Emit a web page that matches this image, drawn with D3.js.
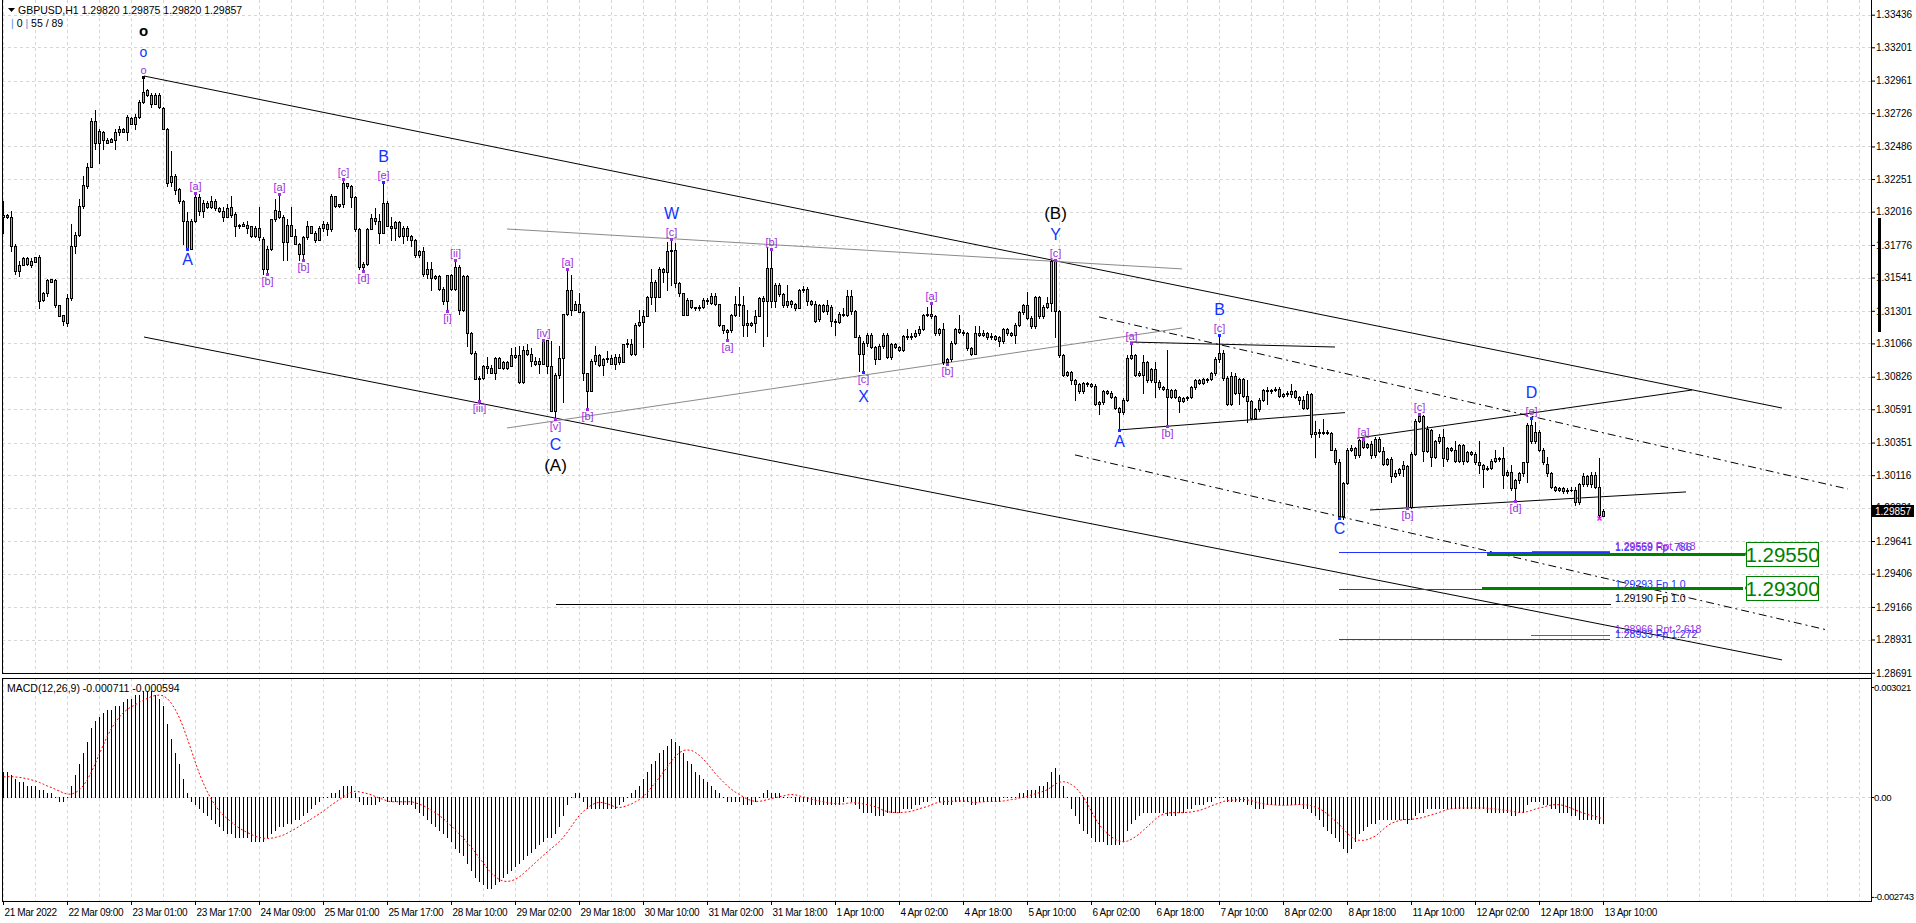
<!DOCTYPE html>
<html><head><meta charset="utf-8">
<script src="https://cdn.jsdelivr.net/npm/d3@7"></script>
<style>
html,body{margin:0;padding:0;background:#fff;overflow:hidden;}
svg{display:block;font-family:"Liberation Sans",Arial,sans-serif;}
</style></head><body>
<script>
// ---------------- DATA ----------------
const openP = [
1.3198,1.3199,1.3198,1.3177,1.3159,1.3163,1.3168,1.3163,1.3165,1.3169,
1.3138,1.3143,1.3151,1.3152,1.3134,1.3127,1.3121,1.3139,1.3177,1.3185,
1.3206,1.3220,1.3234,1.3267,1.3251,1.3259,1.3253,1.3252,1.3253,1.3259,
1.3261,1.3259,1.3269,1.3265,1.3270,1.3281,1.3286,1.3286,1.3279,1.3286,
1.3276,1.3261,1.3223,1.3227,1.3218,1.3209,1.3195,1.3175,1.3195,1.3212,
1.3202,1.3208,1.3205,1.3209,1.3204,1.3202,1.3198,1.3199,1.3200,1.3192,
1.3191,1.3192,1.3191,1.3184,1.3190,1.3182,1.3160,1.3175,1.3196,1.3202,
1.3198,1.3180,1.3192,1.3184,1.3178,1.3171,1.3183,1.3191,1.3186,1.3181,
1.3190,1.3193,1.3189,1.3213,1.3206,1.3207,1.3222,1.3220,1.3212,1.3189,
1.3162,1.3164,1.3189,1.3197,1.3195,1.3186,1.3208,1.3191,1.3190,1.3194,
1.3184,1.3190,1.3184,1.3181,1.3170,1.3173,1.3157,1.3160,1.3154,1.3155,
1.3146,1.3137,1.3156,1.3146,1.3162,1.3131,1.3155,1.3114,1.3100,1.3081,
1.3082,1.3090,1.3089,1.3085,1.3096,1.3089,1.3093,1.3090,1.3098,1.3098,
1.3079,1.3102,1.3099,1.3094,1.3094,1.3092,1.3109,1.3090,1.3058,1.3084,
1.3096,1.3128,1.3145,1.3131,1.3135,1.3129,1.3085,1.3072,1.3094,1.3098,
1.3091,1.3095,1.3096,1.3092,1.3097,1.3093,1.3106,1.3106,1.3099,1.3120,
1.3122,1.3126,1.3140,1.3151,1.3140,1.3160,1.3158,1.3173,1.3174,1.3150,
1.3143,1.3127,1.3138,1.3133,1.3132,1.3133,1.3138,1.3136,1.3141,1.3135,
1.3120,1.3115,1.3116,1.3127,1.3135,1.3134,1.3121,1.3120,1.3121,1.3126,
1.3139,1.3137,1.3161,1.3137,1.3149,1.3142,1.3134,1.3137,1.3135,1.3132,
1.3145,1.3146,1.3137,1.3135,1.3124,1.3134,1.3130,1.3133,1.3123,1.3122,
1.3128,1.3127,1.3141,1.3130,1.3111,1.3099,1.3107,1.3113,1.3104,1.3095,
1.3105,1.3113,1.3097,1.3106,1.3104,1.3102,1.3112,1.3111,1.3112,1.3114,
1.3117,1.3127,1.3128,1.3126,1.3114,1.3117,1.3093,1.3095,1.3107,1.3117,
1.3115,1.3114,1.3103,1.3099,1.3114,1.3113,1.3114,1.3111,1.3112,1.3111,
1.3108,1.3117,1.3114,1.3113,1.3120,1.3129,1.3134,1.3125,1.3119,1.3140,
1.3126,1.3133,1.3136,1.3166,1.3130,1.3098,1.3084,1.3086,1.3080,1.3077,
1.3072,1.3078,1.3077,1.3076,1.3063,1.3064,1.3072,1.3071,1.3068,1.3060,
1.3057,1.3066,1.3096,1.3098,1.3084,1.3084,1.3093,1.3080,1.3088,1.3079,
1.3075,1.3074,1.3068,1.3073,1.3068,1.3065,1.3067,1.3068,1.3075,1.3080,
1.3078,1.3081,1.3081,1.3085,1.3095,1.3100,1.3082,1.3063,1.3083,1.3071,
1.3081,1.3069,1.3065,1.3053,1.3059,1.3066,1.3073,1.3072,1.3073,1.3074,
1.3069,1.3070,1.3070,1.3072,1.3068,1.3066,1.3060,1.3070,1.3041,1.3043,
1.3042,1.3043,1.3042,1.3030,1.3021,1.2982,1.3006,1.3030,1.3031,1.3026,
1.3037,1.3032,1.3034,1.3026,1.3038,1.3029,1.3020,1.3023,1.3011,1.3013,
1.3016,1.3018,1.2989,1.3027,1.3051,1.3054,1.3029,1.3044,1.3025,1.3036,
1.3039,1.3023,1.3031,1.3030,1.3022,1.3033,1.3022,1.3028,1.3027,1.3021,
1.3019,1.3016,1.3017,1.3022,1.3024,1.3024,1.3012,1.3014,1.3002,1.3008,
1.3013,1.3021,1.3048,1.3036,1.3043,1.3030,1.3020,1.3013,1.3003,1.3001,
1.3002,1.3000,1.3001,1.3001,1.2992,1.3005,1.3011,1.3005,1.3012,1.3003,
1.29820];
const highP = [
1.3209,1.3200,1.3202,1.3178,1.3166,1.3169,1.3169,1.3168,1.3169,1.3170,
1.3144,1.3153,1.3153,1.3153,1.3134,1.3127,1.3142,1.3193,1.3187,1.3211,
1.3227,1.3237,1.3269,1.3275,1.3261,1.3260,1.3255,1.3255,1.3261,1.3263,
1.3262,1.3271,1.3270,1.3272,1.3282,1.3299,1.3290,1.3287,1.3287,1.3287,
1.3277,1.3262,1.3245,1.3229,1.3219,1.3210,1.3201,1.3196,1.3215,1.3214,
1.3210,1.3209,1.3213,1.3211,1.3205,1.3205,1.3207,1.3213,1.3201,1.3193,
1.3194,1.3195,1.3191,1.3191,1.3205,1.3183,1.3177,1.3196,1.3211,1.3214,
1.3199,1.3196,1.3205,1.3189,1.3179,1.3184,1.3195,1.3191,1.3188,1.3191,
1.3195,1.3194,1.3214,1.3213,1.3207,1.3225,1.3222,1.3221,1.3213,1.3190,
1.3165,1.3190,1.3200,1.3204,1.3200,1.3223,1.3209,1.3198,1.3195,1.3195,
1.3191,1.3191,1.3185,1.3182,1.3174,1.3176,1.3165,1.3165,1.3156,1.3156,
1.3147,1.3156,1.3157,1.3167,1.3163,1.3156,1.3156,1.3115,1.3101,1.3083,
1.3091,1.3097,1.3091,1.3097,1.3097,1.3094,1.3094,1.3103,1.3104,1.3105,
1.3105,1.3106,1.3103,1.3097,1.3096,1.3109,1.3109,1.3108,1.3085,1.3105,
1.3128,1.3160,1.3156,1.3137,1.3143,1.3130,1.3085,1.3095,1.3105,1.3099,
1.3096,1.3101,1.3098,1.3099,1.3099,1.3106,1.3110,1.3110,1.3121,1.3131,
1.3131,1.3141,1.3160,1.3152,1.3162,1.3161,1.3180,1.3182,1.3179,1.3151,
1.3143,1.3139,1.3138,1.3133,1.3134,1.3139,1.3139,1.3143,1.3143,1.3135,
1.3120,1.3117,1.3128,1.3141,1.3147,1.3141,1.3131,1.3122,1.3131,1.3140,
1.3141,1.3176,1.3175,1.3150,1.3150,1.3143,1.3149,1.3138,1.3136,1.3146,
1.3148,1.3147,1.3138,1.3137,1.3135,1.3135,1.3138,1.3134,1.3124,1.3129,
1.3132,1.3145,1.3145,1.3131,1.3113,1.3108,1.3114,1.3114,1.3105,1.3106,
1.3114,1.3114,1.3107,1.3107,1.3105,1.3113,1.3117,1.3114,1.3116,1.3119,
1.3128,1.3133,1.3136,1.3127,1.3118,1.3121,1.3096,1.3108,1.3118,1.3127,
1.3116,1.3115,1.3104,1.3119,1.3119,1.3116,1.3115,1.3114,1.3113,1.3112,
1.3118,1.3118,1.3115,1.3121,1.3130,1.3135,1.3144,1.3126,1.3141,1.3141,
1.3134,1.3140,1.3167,1.3167,1.3131,1.3099,1.3087,1.3087,1.3081,1.3078,
1.3079,1.3079,1.3078,1.3077,1.3065,1.3073,1.3073,1.3072,1.3069,1.3061,
1.3067,1.3098,1.3107,1.3099,1.3087,1.3098,1.3094,1.3089,1.3093,1.3080,
1.3076,1.3102,1.3074,1.3074,1.3069,1.3068,1.3069,1.3076,1.3081,1.3081,
1.3082,1.3082,1.3086,1.3097,1.3113,1.3102,1.3083,1.3086,1.3085,1.3082,
1.3082,1.3080,1.3066,1.3060,1.3067,1.3074,1.3075,1.3074,1.3075,1.3075,
1.3071,1.3072,1.3077,1.3073,1.3069,1.3069,1.3072,1.3071,1.3051,1.3045,
1.3052,1.3044,1.3043,1.3031,1.3023,1.3007,1.3031,1.3033,1.3032,1.3038,
1.3038,1.3035,1.3036,1.3039,1.3039,1.3032,1.3024,1.3025,1.3015,1.3017,
1.3022,1.3019,1.3028,1.3052,1.3056,1.3055,1.3047,1.3045,1.3037,1.3041,
1.3045,1.3032,1.3032,1.3036,1.3034,1.3034,1.3029,1.3029,1.3028,1.3036,
1.3020,1.3018,1.3023,1.3030,1.3025,1.3032,1.3015,1.3019,1.3009,1.3014,
1.3021,1.3049,1.3053,1.3050,1.3044,1.3031,1.3025,1.3014,1.3004,1.3003,
1.3003,1.3002,1.3003,1.3003,1.3006,1.3013,1.3012,1.3014,1.3014,1.3024,
1.29875];
const lowP = [
1.3186,1.3197,1.3173,1.3157,1.3155,1.3163,1.3163,1.3162,1.3165,1.3132,
1.3137,1.3141,1.3151,1.3133,1.3126,1.3120,1.3119,1.3138,1.3172,1.3184,
1.3204,1.3219,1.3234,1.3247,1.3237,1.3247,1.3251,1.3252,1.3247,1.3257,
1.3259,1.3253,1.3265,1.3261,1.3269,1.3280,1.3285,1.3277,1.3279,1.3276,
1.3261,1.3220,1.3220,1.3214,1.3208,1.3178,1.3175,1.3175,1.3194,1.3199,
1.3198,1.3204,1.3204,1.3203,1.3201,1.3195,1.3198,1.3198,1.3184,1.3190,
1.3191,1.3186,1.3183,1.3183,1.3181,1.3157,1.3157,1.3174,1.3195,1.3197,
1.3167,1.3167,1.3184,1.3178,1.3167,1.3168,1.3182,1.3186,1.3180,1.3181,
1.3188,1.3185,1.3188,1.3205,1.3205,1.3205,1.3219,1.3205,1.3188,1.3160,
1.3159,1.3163,1.3189,1.3193,1.3179,1.3186,1.3191,1.3181,1.3181,1.3183,
1.3179,1.3181,1.3177,1.3169,1.3169,1.3155,1.3154,1.3145,1.3153,1.3145,
1.3135,1.3130,1.3145,1.3145,1.3128,1.3130,1.3105,1.3099,1.3081,1.3065,
1.3081,1.3085,1.3085,1.3081,1.3089,1.3088,1.3088,1.3090,1.3096,1.3078,
1.3078,1.3098,1.3090,1.3091,1.3085,1.3092,1.3085,1.3058,1.3052,1.3082,
1.3064,1.3127,1.3127,1.3131,1.3129,1.3080,1.3059,1.3072,1.3092,1.3090,
1.3084,1.3093,1.3092,1.3088,1.3092,1.3093,1.3104,1.3098,1.3098,1.3119,
1.3104,1.3126,1.3135,1.3130,1.3140,1.3151,1.3145,1.3149,1.3147,1.3141,
1.3127,1.3127,1.3132,1.3131,1.3131,1.3132,1.3135,1.3135,1.3134,1.3119,
1.3114,1.3109,1.3115,1.3126,1.3126,1.3112,1.3112,1.3119,1.3115,1.3126,
1.3105,1.3112,1.3133,1.3133,1.3141,1.3133,1.3133,1.3133,1.3131,1.3132,
1.3144,1.3134,1.3134,1.3122,1.3123,1.3129,1.3128,1.3119,1.3113,1.3121,
1.3126,1.3126,1.3128,1.3111,1.3087,1.3086,1.3105,1.3103,1.3092,1.3095,
1.3103,1.3096,1.3095,1.3103,1.3101,1.3101,1.3110,1.3110,1.3111,1.3113,
1.3116,1.3126,1.3125,1.3113,1.3113,1.3092,1.3092,1.3094,1.3106,1.3114,
1.3113,1.3102,1.3098,1.3099,1.3112,1.3112,1.3110,1.3110,1.3109,1.3105,
1.3107,1.3113,1.3112,1.3107,1.3119,1.3128,1.3124,1.3118,1.3118,1.3125,
1.3125,1.3132,1.3130,1.3111,1.3097,1.3083,1.3083,1.3077,1.3066,1.3071,
1.3071,1.3076,1.3075,1.3062,1.3056,1.3063,1.3070,1.3067,1.3059,1.3044,
1.3056,1.3065,1.3095,1.3083,1.3083,1.3071,1.3079,1.3079,1.3068,1.3074,
1.3073,1.3047,1.3067,1.3067,1.3057,1.3064,1.3066,1.3067,1.3074,1.3077,
1.3077,1.3079,1.3080,1.3084,1.3093,1.3080,1.3062,1.3062,1.3070,1.3063,
1.3068,1.3050,1.3052,1.3052,1.3058,1.3065,1.3063,1.3071,1.3072,1.3068,
1.3068,1.3069,1.3068,1.3067,1.3063,1.3059,1.3059,1.3039,1.3025,1.3039,
1.3041,1.3041,1.3030,1.3020,1.2981,1.2980,1.3005,1.3029,1.3024,1.3025,
1.3031,1.3031,1.3024,1.3025,1.3028,1.3019,1.3019,1.3007,1.3010,1.3012,
1.3011,1.2988,1.2988,1.3026,1.3050,1.3022,1.3028,1.3018,1.3024,1.3035,
1.3018,1.3022,1.3029,1.3021,1.3021,1.3020,1.3021,1.3026,1.3020,1.3013,
1.3003,1.3015,1.3016,1.3021,1.3022,1.3002,1.3011,1.3001,1.2993,1.3006,
1.3011,1.3007,1.3035,1.3035,1.3029,1.3020,1.3011,1.3002,1.3000,1.3000,
1.2999,1.2999,1.3000,1.2990,1.2991,1.3004,1.3004,1.3003,1.3002,1.2981,
1.29820];
const closeP = [
1.3199,1.3198,1.3177,1.3159,1.3163,1.3168,1.3164,1.3166,1.3169,1.3137,
1.3143,1.3152,1.3153,1.3134,1.3126,1.3123,1.3139,1.3177,1.3185,1.3206,
1.3221,1.3234,1.3267,1.3251,1.3260,1.3253,1.3251,1.3254,1.3259,1.3261,
1.3259,1.3270,1.3265,1.3270,1.3281,1.3288,1.3289,1.3279,1.3286,1.3277,
1.3261,1.3222,1.3227,1.3217,1.3209,1.3195,1.3175,1.3195,1.3212,1.3202,
1.3208,1.3205,1.3209,1.3204,1.3202,1.3198,1.3204,1.3205,1.3191,1.3191,
1.3193,1.3190,1.3184,1.3190,1.3183,1.3160,1.3175,1.3196,1.3203,1.3198,
1.3180,1.3192,1.3184,1.3178,1.3171,1.3183,1.3191,1.3186,1.3181,1.3190,
1.3193,1.3189,1.3213,1.3206,1.3207,1.3222,1.3220,1.3212,1.3189,1.3162,
1.3164,1.3189,1.3197,1.3195,1.3186,1.3208,1.3191,1.3190,1.3194,1.3184,
1.3190,1.3184,1.3181,1.3170,1.3173,1.3157,1.3160,1.3154,1.3155,1.3146,
1.3137,1.3156,1.3146,1.3162,1.3131,1.3155,1.3114,1.3100,1.3081,1.3082,
1.3090,1.3089,1.3085,1.3096,1.3089,1.3093,1.3089,1.3098,1.3097,1.3079,
1.3102,1.3099,1.3094,1.3092,1.3092,1.3109,1.3090,1.3058,1.3084,1.3096,
1.3128,1.3145,1.3131,1.3135,1.3129,1.3085,1.3072,1.3094,1.3098,1.3091,
1.3095,1.3096,1.3092,1.3097,1.3093,1.3106,1.3107,1.3099,1.3120,1.3122,
1.3126,1.3140,1.3151,1.3140,1.3160,1.3158,1.3173,1.3174,1.3150,1.3143,
1.3127,1.3138,1.3133,1.3132,1.3133,1.3138,1.3137,1.3141,1.3135,1.3120,
1.3116,1.3116,1.3127,1.3135,1.3134,1.3120,1.3120,1.3121,1.3126,1.3139,
1.3137,1.3161,1.3137,1.3149,1.3142,1.3134,1.3137,1.3135,1.3132,1.3145,
1.3146,1.3137,1.3135,1.3123,1.3134,1.3130,1.3134,1.3123,1.3122,1.3128,
1.3127,1.3141,1.3130,1.3111,1.3099,1.3107,1.3113,1.3104,1.3095,1.3105,
1.3113,1.3097,1.3106,1.3104,1.3102,1.3112,1.3111,1.3112,1.3114,1.3117,
1.3127,1.3128,1.3126,1.3114,1.3117,1.3093,1.3095,1.3107,1.3117,1.3115,
1.3114,1.3103,1.3099,1.3114,1.3113,1.3114,1.3111,1.3112,1.3110,1.3108,
1.3117,1.3114,1.3113,1.3120,1.3129,1.3134,1.3125,1.3119,1.3140,1.3126,
1.3133,1.3136,1.3166,1.3130,1.3098,1.3084,1.3086,1.3080,1.3077,1.3072,
1.3078,1.3077,1.3076,1.3063,1.3064,1.3072,1.3071,1.3068,1.3060,1.3057,
1.3066,1.3096,1.3098,1.3084,1.3085,1.3093,1.3080,1.3088,1.3079,1.3075,
1.3074,1.3068,1.3073,1.3068,1.3065,1.3067,1.3068,1.3075,1.3080,1.3078,
1.3081,1.3080,1.3085,1.3095,1.3100,1.3082,1.3063,1.3083,1.3071,1.3081,
1.3069,1.3065,1.3053,1.3059,1.3066,1.3073,1.3072,1.3073,1.3074,1.3069,
1.3070,1.3071,1.3072,1.3068,1.3066,1.3060,1.3070,1.3041,1.3043,1.3042,
1.3043,1.3042,1.3030,1.3021,1.2982,1.3006,1.3030,1.3031,1.3026,1.3037,
1.3032,1.3034,1.3026,1.3038,1.3029,1.3020,1.3023,1.3011,1.3013,1.3016,
1.3019,1.2989,1.3027,1.3051,1.3054,1.3029,1.3045,1.3025,1.3036,1.3039,
1.3024,1.3031,1.3030,1.3022,1.3033,1.3022,1.3028,1.3027,1.3021,1.3019,
1.3016,1.3017,1.3022,1.3024,1.3023,1.3012,1.3014,1.3002,1.3008,1.3013,
1.3021,1.3048,1.3036,1.3043,1.3030,1.3021,1.3013,1.3003,1.3001,1.3002,
1.3000,1.3001,1.3001,1.2992,1.3005,1.3011,1.3005,1.3012,1.3003,1.2983,
1.29857];
// MACD(12,26,9) main line (histogram), in units of 1e-4
const macdMainE4 = [
7,7,6,5,4,4,3,3,3,2,2,
1,1,0,-1,-1,0,
3,6,9,12,15,19,
21,22,23,24,24,25,25,26,
27,27,28,28,29,29,29,28,27,25,
20,16,12,9,5,1,
-1,-2,-3,-4,-5,-6,-7,-8,-9,
-10,-10,-11,-11,-11,-11,-12,-12,-12,-12,-11,
-10,-9,-8,-8,-7,-7,-6,-6,-5,
-4,-3,-2,-1,0,0,1,1,2,3,3,3,1,-1,-2,
-2,-2,-2,-1,0,-1,-1,-1,-2,-2,-2,-2,
-3,-4,-5,-6,-7,-8,-9,-10,-11,-12,-14,-15,-16,-18,-20,-22,-23,-24,
-25,-25,-24,-23,-22,-21,-20,-19,-18,-17,-16,-15,-14,-13,-12,-11,-11,-10,-8,-5,
-2,0,1,1,-1,-3,-3,-3,-3,-3,-3,-3,-3,-2,-1,0,1,2,3,5,
7,9,10,12,13,14,16,15,14,12,10,9,7,6,5,
4,3,2,1,0,-1,-1,-1,-1,-2,-2,-2,-1,0,1,2,1,1,1,0,
0,0,-1,-1,-1,-1,-2,-2,-2,-2,-2,-2,-2,-2,-1,0,-1,-2,-3,-4,
-4,-4,-5,-5,-5,-4,-4,-4,-4,-3,-3,-3,-2,-2,-1,-1,0,0,-1,-2,-2,-2,-1,-1,-1,
-1,-2,-2,-1,-1,-1,-1,-1,-1,0,0,0,0,1,1,2,2,2,3,3,
4,7,8,6,3,0,-3,-5,-7,-9,-10,-11,-12,-12,-12,-13,-13,-13,-13,-12,
-9,-7,-6,-5,-4,-4,-4,-4,-4,-4,-5,-5,-5,-4,-4,-3,-3,-2,-2,-2,
-1,-1,0,0,0,-1,-1,-1,-1,-1,-2,-2,-3,-3,-3,-2,-2,-2,-2,-2,
-2,-2,-2,-2,-3,-3,-4,-5,-6,-8,-9,-10,-11,-12,-14,-15,-14,-12,-10,-9,
-8,-7,-7,-6,-6,-6,-6,-6,-6,-6,-7,-6,-5,-4,-4,-3,-3,-3,-3,-3,
-3,-3,-3,-3,-3,-3,-3,-3,-3,-3,-4,-4,-4,-4,-4,-4,-5,-5,-4,-4,
-2,-1,-1,-1,-2,-2,-3,-3,-4,-4,-4,-5,-5,-6,-6,-6,-6,-6,-7,-7.11];
// MACD signal line (red dotted), in units of 1e-4
const macdSignalE4 = [
5.5,5.6,5.6,5.5,5.4,5.2,5,4.7,4.4,4,3.5,
3,2.6,2.1,1.6,1.1,0.8,
0.8,1.2,2,3.2,4.8,6.9,
9.3,11.9,14.4,16.8,18.8,20.6,22,23.2,
24.1,24.8,25.4,26,26.6,27.1,27.6,27.9,28,27.8,
27,25.7,23.9,21.7,19,15.9,
12.7,9.4,6.3,3.7,1.3,-0.7,-2.4,-3.9,-5,
-6,-6.9,-7.8,-8.6,-9.2,-9.8,-10.3,-10.8,-11.1,-11.3,-11.4,
-11.3,-11.1,-10.8,-10.4,-9.9,-9.3,-8.7,-8,-7.3,
-6.7,-6,-5.3,-4.6,-3.8,-3,-2.2,-1.4,-0.7,0.1,0.8,1.3,1.6,1.4,1.2,
0.9,0.6,0.1,-0.3,-0.7,-1.1,-1.3,-1.3,-1.3,-1.3,-1.3,-1.3,
-1.6,-2,-2.4,-3,-3.7,-4.3,-5.1,-6,-7,-8,-9.1,-10.2,-11.3,-12.6,-13.9,-15.3,-16.8,-18.2,
-19.7,-20.9,-21.9,-22.7,-23.1,-23.2,-23,-22.6,-21.9,-21,-20,-19,-18,-17,-16,-15,-14.1,-13.2,-12.2,-11,
-9.6,-8,-6.4,-5,-3.9,-3,-2.2,-1.7,-1.4,-1.6,-1.9,-2.3,-2.8,-2.9,-2.7,-2.3,-1.9,-1.3,-0.7,0.2,
1.3,2.7,4,5.4,6.9,8.3,9.9,11.2,12.2,12.8,12.9,12.8,12.2,11.4,10.4,
9.1,7.8,6.4,5.2,4.1,3,2.1,1.3,0.7,0,-0.6,-1,-1.2,-1.2,-1,-0.7,-0.4,-0.2,0.1,0.3,
0.6,0.7,0.6,0.3,0,-0.2,-0.6,-0.9,-1.1,-1.3,-1.6,-1.7,-1.8,-1.9,-1.9,-1.7,-1.6,-1.6,-1.7,-1.9,
-2.1,-2.3,-2.7,-3.1,-3.7,-4,-4.2,-4.3,-4.3,-4.2,-4.1,-3.9,-3.6,-3.2,-2.9,-2.6,-2.1,-1.7,-1.4,-1.3,-1.2,-1.2,-1.1,-1.1,-1.1,
-1.2,-1.4,-1.6,-1.4,-1.3,-1.2,-1.2,-1.2,-1.2,-1.1,-0.9,-0.7,-0.6,-0.3,-0.1,0.2,0.6,0.9,1.2,1.6,
2,2.8,3.6,4.1,4.2,4,3.4,2.6,1.4,0,-1.9,-4,-6,-7.7,-9,-10.1,-11,-11.7,-12.1,-12.3,
-12.1,-11.6,-10.9,-10.1,-9.1,-8.1,-7.1,-6.1,-5.2,-4.7,-4.4,-4.3,-4.3,-4.3,-4.3,-4.2,-4.1,-3.9,-3.7,-3.3,
-2.9,-2.4,-2,-1.6,-1.2,-1,-0.9,-0.8,-0.7,-0.7,-0.8,-1,-1.3,-1.7,-1.9,-2,-2.1,-2.2,-2.3,-2.3,
-2.3,-2.2,-2.1,-2,-2.1,-2.2,-2.4,-2.8,-3.2,-3.9,-4.7,-5.6,-6.6,-7.6,-8.8,-10,-11,-11.7,-11.9,-11.9,
-11.7,-11.2,-10.7,-9.8,-8.8,-7.9,-7.2,-6.8,-6.4,-6.2,-6.2,-6.1,-6,-5.8,-5.6,-5.2,-4.9,-4.6,-4.2,-3.8,
-3.4,-3.2,-3.1,-3,-3,-3,-3,-3,-3,-3,-3.1,-3.2,-3.3,-3.4,-3.6,-3.7,-3.9,-4.1,-4.2,-4.2,
-4,-3.7,-3.3,-3,-2.8,-2.4,-2.2,-2.1,-2.1,-2.3,-2.7,-3.1,-3.6,-4,-4.4,-4.8,-5.1,-5.3,-5.7,-5.94];
const priceTicks = [1.33436,1.33201,1.32961,1.32726,1.32486,1.32251,1.32016,1.31776,1.31541,1.31301,1.31066,1.30826,1.30591,1.30351,1.30116,1.29881,1.29641,1.29406,1.29166,1.28931,1.28691];
const macdTicks = [30.21, 0, -27.43];
const macdTickLabels = ["0.003021","0.00","-0.002743"];
const timeLabels = ["21 Mar 2022","22 Mar 09:00","23 Mar 01:00","23 Mar 17:00","24 Mar 09:00","25 Mar 01:00","25 Mar 17:00","28 Mar 10:00","29 Mar 02:00","29 Mar 18:00","30 Mar 10:00","31 Mar 02:00","31 Mar 18:00","1 Apr 10:00","4 Apr 02:00","4 Apr 18:00","5 Apr 10:00","6 Apr 02:00","6 Apr 18:00","7 Apr 10:00","8 Apr 02:00","8 Apr 18:00","11 Apr 10:00","12 Apr 02:00","12 Apr 18:00","13 Apr 10:00"];
const timeLabelBars = [0,16,32,48,64,80,96,112,128,144,160,176,192,208,224,240,256,272,288,304,320,336,352,368,384,400];
const lastPrice = 1.29857;
// wave labels: text, bar, price, direction(-1 above / +1 below), level, class
const waveLabels = [
["o",35,1.3299,-1,1,"p"],["o",35,1.3299,-1,2,"b"],["o",35,1.3299,-1,3,"k"],
["[a]",48,1.3215,-1,1,"p"],["A",46,1.3175,1,1,"b"],["[b]",66,1.3157,1,1,"p"],["[a]",69,1.3214,-1,1,"p"],
["[b]",75,1.3167,1,1,"p"],["[c]",85,1.3225,-1,1,"p"],["[d]",90,1.3159,1,1,"p"],["[e]",95,1.3223,-1,1,"p"],["B",95,1.3223,-1,2,"b"],
["[i]",111,1.3130,1,1,"p"],["[ii]",113,1.3167,-1,1,"p"],["[iii]",119,1.3065,1,1,"p"],["[iv]",135,1.3109,-1,1,"p"],
["[v]",138,1.3052,1,1,"p"],["C",138,1.3052,1,2,"b"],["(A)",138,1.3052,1,3,"k"],
["[a]",141,1.3160,-1,1,"p"],["[b]",146,1.3059,1,1,"p"],["[c]",167,1.3182,-1,1,"p"],["W",167,1.3182,-1,2,"b"],
["[a]",181,1.3109,1,1,"p"],["[b]",192,1.3175,-1,1,"p"],["[c]",215,1.3086,1,1,"p"],["X",215,1.3086,1,2,"b"],
["[a]",232,1.3136,-1,1,"p"],["[b]",236,1.3092,1,1,"p"],["[c]",263,1.3167,-1,1,"p"],["Y",263,1.3167,-1,2,"b"],["(B)",263,1.3167,-1,3,"k"],
["A",279,1.3044,1,1,"b"],["[a]",282,1.3107,-1,1,"p"],["[b]",291,1.3047,1,1,"p"],["[c]",304,1.3113,-1,1,"p"],["B",304,1.3113,-1,2,"b"],
["C",334,1.2981,1,1,"b"],["[a]",340,1.3038,-1,1,"p"],["[b]",351,1.2988,1,1,"p"],["[c]",354,1.3056,-1,1,"p"],
["[d]",378,1.2993,1,1,"p"],["[e]",382,1.3053,-1,1,"p"],["D",382,1.3053,-1,2,"b"]];
// pivot markers: bar, price, colour class
const waveMarks = [[35,1.3299,"k"],[48,1.3215,"p"],[46,1.3175,"b"],[66,1.3157,"p"],[69,1.3214,"p"],[75,1.3167,"p"],[85,1.3225,"p"],[90,1.3159,"p"],[95,1.3223,"b"],
[111,1.3130,"p"],[113,1.3167,"p"],[119,1.3065,"p"],[135,1.3109,"p"],[138,1.3052,"p"],[141,1.3160,"p"],[146,1.3059,"p"],[167,1.3182,"p"],[181,1.3109,"p"],[192,1.3175,"p"],
[215,1.3086,"b"],[232,1.3136,"p"],[236,1.3092,"p"],[263,1.3167,"p"],[279,1.3044,"b"],[282,1.3107,"p"],[291,1.3047,"p"],[304,1.3113,"b"],[334,1.2981,"b"],
[340,1.3038,"p"],[351,1.2988,"p"],[354,1.3056,"p"],[378,1.2993,"p"],[382,1.3053,"b"]];
// trend lines: bar1, price1, bar2, price2, style
const trendLines = [
[35.25,1.32994,444.75,1.30600,"solid"],[35.25,1.31112,444.75,1.28784,"solid"],
[126,1.31891,294.75,1.31603,"gray"],[126,1.30456,294.75,1.31177,"gray"],
[281.75,1.31076,333,1.31040,"solid"],[279,1.30442,335.5,1.30567,"solid"],
[338.5,1.30383,422.25,1.30730,"solid"],[341.75,1.29865,420.75,1.29995,"solid"],
[274,1.31257,461.25,1.30016,"dashdot"],[268,1.30262,456,1.29000,"dashdot"]];
// fibo levels: price, bar1, bar2, style
const fibLines = [
[1.29559,334,401.75,"blue"],[1.29569,382.25,401.75,"purple"],[1.29293,334,401.75,"blue"],
[1.29190,138.25,402,"black"],[1.28966,382,401.75,"purple"],[1.28933,334,401.75,"blue"],
[1.29550,371,435.5,"green"],[1.29300,369.75,435,"green"]];
const fibTexts = [["1.29559 Fp .786",1.29559,"blue"],["1.29569 Rpt .618",1.29569,"purple"],["1.29293 Fp 1.0",1.29293,"blue"],
["1.29190 Fp 1.0",1.29190,"black"],["1.28966 Rpt 2.618",1.28966,"purple"],["1.28933 Fp 1.272",1.28933,"blue"]];
const targetBoxes = [1.29550, 1.29300];

// ---------------- DRAW ----------------
const W=1916,H=923;
const svg=d3.select("body").append("svg").attr("width",W).attr("height",H);
const x=d3.scaleLinear().domain([0,400]).range([3,1603]);
const y=d3.scaleLinear().domain([1.28691,1.33436]).range([672.8,14.7]);
const ym=d3.scaleLinear().domain([-27.43,30.21]).range([896.9,687]);
const R=v=>Math.round(v);
const colors={p:"#9b30d9",b:"#1133ff",k:"#000",blue:"#2233ff",purple:"#a030e0",black:"#000",green:"#008000"};
const bull="#9acd32",bear="#f0962a",gridC="#d6d6d6";
const LEFT=2,RIGHT=1871,MAINB=673,MACDT=678,MACDB=901;

// grid
const grid=svg.append("g").attr("stroke",gridC).attr("stroke-dasharray","3,3").attr("stroke-width",1);
priceTicks.forEach(t=>grid.append("line").attr("x1",LEFT).attr("x2",RIGHT).attr("y1",R(y(t))+0.5).attr("y2",R(y(t))+0.5));
for(let k=0;x(k*8)<RIGHT;k++){
  const gx=R(x(k*8))+0.5;
  grid.append("line").attr("x1",gx).attr("x2",gx).attr("y1",0).attr("y2",MAINB);
  grid.append("line").attr("x1",gx).attr("x2",gx).attr("y1",MACDT).attr("y2",MACDB);
}
grid.append("line").attr("x1",LEFT).attr("x2",RIGHT).attr("y1",R(ym(0))+0.5).attr("y2",R(ym(0))+0.5);

// clip for main panel
svg.append("clipPath").attr("id","mainclip").append("rect").attr("x",LEFT+1).attr("y",0).attr("width",RIGHT-LEFT-1).attr("height",MAINB);
const main=svg.append("g").attr("clip-path","url(#mainclip)");

// trend lines
const lstyle={solid:{c:"#000",d:null},gray:{c:"#8a8a8a",d:null},dashdot:{c:"#000",d:"8,4,2,4"}};
trendLines.forEach(([b1,p1,b2,p2,s])=>{
  main.append("line").attr("x1",x(b1)).attr("y1",y(p1)).attr("x2",x(b2)).attr("y2",y(p2))
   .attr("stroke",lstyle[s].c).attr("stroke-width",1).attr("stroke-dasharray",lstyle[s].d);
});
// fib lines
fibLines.forEach(([p,b1,b2,s])=>{
  const yy=R(y(p))+0.5;
  main.append("line").attr("x1",x(b1)).attr("x2",x(b2)).attr("y1",yy).attr("y2",yy)
   .attr("stroke",colors[s]).attr("stroke-width",s==="green"?3:1);
});

// candles
const cg=main.append("g");
const idx=d3.range(closeP.length);
idx.forEach(i=>{
  const cx=R(x(i)), o=openP[i], c=closeP[i];
  const yh=R(y(highP[i])), yl=R(y(lowP[i]));
  const yt=R(y(Math.max(o,c))), yb=R(y(Math.min(o,c)));
  cg.append("rect").attr("x",cx).attr("y",Math.min(yh,yt)).attr("width",1).attr("height",Math.max(yl,yb)-Math.min(yh,yt)+1).attr("fill","#000");
  cg.append("rect").attr("x",cx-1).attr("y",yt).attr("width",3).attr("height",yb-yt+1).attr("fill","#000");
  if(yb-yt>=2) cg.append("rect").attr("x",cx).attr("y",yt+1).attr("width",1).attr("height",yb-yt-1).attr("fill",c>=o?bull:bear);
});

// wave markers and labels
waveMarks.forEach(([b,p,c])=>{
  main.append("rect").attr("x",R(x(b))-1).attr("y",R(y(p))-1).attr("width",3).attr("height",3).attr("fill",colors[c]);
});
const offs={p:[0,7,0,0],b:[0,11,25,0],k:[0,0,0,46]};
const fsz={p:11,b:16,k:17};
waveLabels.forEach(([t,b,p,dir,lvl,cls])=>{
  let size=fsz[cls], weight="normal";
  if(t==="o"&&cls==="k"){size=15;weight="bold";}
  if(t==="o"&&cls==="b"){size=14;}
  main.append("text").attr("x",x(b)+0.5).attr("y",y(p)+dir*offs[cls][lvl])
   .attr("text-anchor","middle").attr("dominant-baseline","central")
   .attr("font-size",size).attr("font-weight",weight).attr("fill",colors[cls]).text(t);
});
// last bar cross marker
{
  const mx=R(x(399))+0.5, my=R(y(1.2981))+0.5;
  main.append("path").attr("d",`M${mx-2},${my-2}L${mx+2},${my+2}M${mx-2},${my+2}L${mx+2},${my-2}`).attr("stroke","#ff00ff").attr("stroke-width",1.3);
}
// fib texts
fibTexts.forEach(([t,p,s])=>{
  main.append("text").attr("x",x(403)).attr("y",y(p)-1.5).attr("font-size",10.5).attr("fill",colors[s]).text(t);
});
// target boxes
targetBoxes.forEach(p=>{
  const yy=R(y(p));
  main.append("rect").attr("x",x(435.6)).attr("y",yy-1).attr("width",2).attr("height",2).attr("fill","none").attr("stroke","#008000").attr("stroke-width",0.8);
  main.append("rect").attr("x",1746.5).attr("y",yy-11.5).attr("width",72).attr("height",24).attr("fill","#fff").attr("stroke","#008000").attr("stroke-width",1);
  main.append("text").attr("x",1782.5).attr("y",yy+8).attr("text-anchor","middle").attr("font-size",20.5).attr("fill","#008000").text(d3.format(".5f")(p));
});

// MACD
const mg=svg.append("g");
const z0=R(ym(0));
idx.forEach(i=>{
  const v=R(ym(macdMainE4[i])), cx=R(x(i));
  mg.append("rect").attr("x",cx).attr("y",Math.min(v,z0)).attr("width",1).attr("height",Math.abs(v-z0)+1).attr("fill","#000");
});
mg.append("path").datum(d3.range(macdSignalE4.length)).attr("fill","none").attr("stroke","#ff0000").attr("stroke-width",1).attr("stroke-dasharray","2,2")
  .attr("d",d3.line().x(i=>x(i)+0.5).y(i=>ym(macdSignalE4[i])));

// borders
const bd=svg.append("g").attr("stroke","#000").attr("stroke-width",1);
bd.append("line").attr("x1",LEFT+0.5).attr("x2",LEFT+0.5).attr("y1",0).attr("y2",MAINB+0.5);
bd.append("line").attr("x1",LEFT+0.5).attr("x2",LEFT+0.5).attr("y1",MACDT+0.5).attr("y2",MACDB+0.5);
bd.append("line").attr("x1",RIGHT+0.5).attr("x2",RIGHT+0.5).attr("y1",0).attr("y2",MACDB+0.5);
[MAINB,MACDT,MACDB].forEach(yy=>bd.append("line").attr("x1",LEFT).attr("x2",RIGHT+1).attr("y1",yy+0.5).attr("y2",yy+0.5));

// axes
const styleAxis=g=>{g.select(".domain").remove();g.selectAll("text").attr("font-family","Liberation Sans, Arial, sans-serif").attr("fill","#000");g.selectAll("line").attr("stroke","#000");};
svg.append("g").attr("transform",`translate(${RIGHT},0)`)
  .call(d3.axisRight(y).tickValues(priceTicks).tickSize(4).tickPadding(1).tickFormat(d3.format(".5f")))
  .call(styleAxis).selectAll("text").attr("font-size",10);
svg.append("g").attr("transform",`translate(${RIGHT},0)`)
  .call(d3.axisRight(ym).tickValues(macdTicks).tickSize(3).tickPadding(0).tickFormat((d,i)=>macdTickLabels[i]))
  .call(styleAxis).selectAll("text").attr("font-size",9.6).attr("letter-spacing",-0.4);
svg.append("g").attr("transform",`translate(0,${MACDB})`)
  .call(d3.axisBottom(x).tickValues(timeLabelBars).tickSize(4).tickPadding(4).tickFormat((d,i)=>timeLabels[i]))
  .call(styleAxis).selectAll("text").attr("font-size",10).attr("text-anchor","start").attr("dx",1).attr("letter-spacing",-0.35);

// current price label
{
  const yy=R(y(lastPrice));
  svg.append("rect").attr("x",RIGHT+1).attr("y",yy-6).attr("width",42).attr("height",12).attr("fill","#000");
  svg.append("text").attr("x",RIGHT+4).attr("y",yy+4).attr("font-size",10).attr("fill","#fff").text(d3.format(".5f")(lastPrice));
}
// scale marker on price axis
svg.append("rect").attr("x",1878).attr("y",218).attr("width",3).attr("height",114).attr("fill","#000");

// header texts
svg.append("path").attr("d","M8,8L15,8L11.5,12Z").attr("fill","#000");
svg.append("text").attr("x",18).attr("y",14).attr("font-size",10.5).attr("fill","#000").text("GBPUSD,H1  1.29820 1.29875 1.29820 1.29857");
const sub=svg.append("text").attr("x",11).attr("y",27).attr("font-size",10.5).attr("fill","#000");
sub.append("tspan").attr("fill","#5b8fd6").text("| ");
sub.append("tspan").text("0 ");
sub.append("tspan").attr("fill","#5b8fd6").text("| ");
sub.append("tspan").text("55 / 89");
svg.append("text").attr("x",7).attr("y",692).attr("font-size",10.5).attr("fill","#000").text("MACD(12,26,9) -0.000711 -0.000594");
</script>
</body></html>
